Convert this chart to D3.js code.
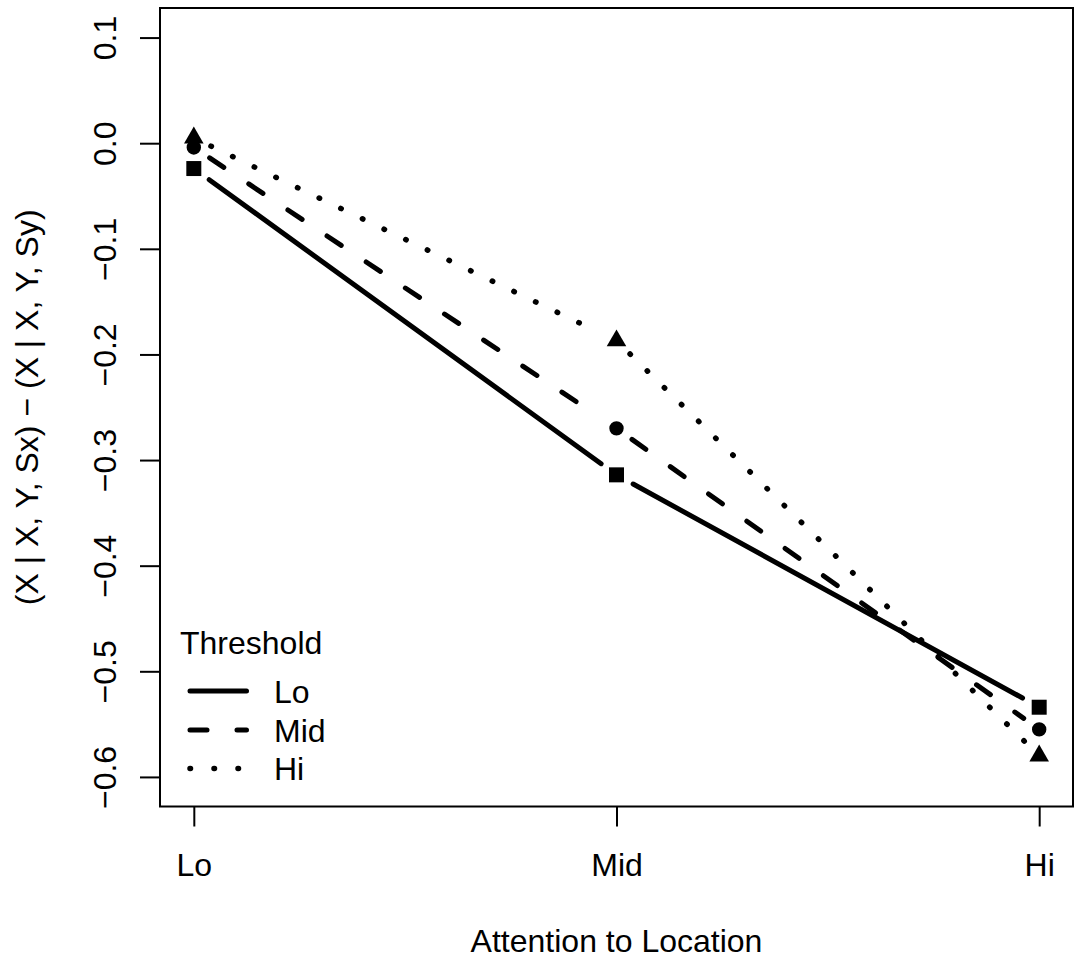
<!DOCTYPE html>
<html><head><meta charset="utf-8">
<script src="https://cdn.jsdelivr.net/npm/d3@7"></script>
<style>body{margin:0;background:#fff}svg text{font-family:"Liberation Sans",Arial,Helvetica,sans-serif;fill:#000}</style>
</head><body>
<svg id="chart" width="1078" height="962"></svg>
<script>
// ---- data ----
const attention = ["Lo", "Mid", "Hi"];           // x categories
const thresholds = ["Lo", "Mid", "Hi"];          // series names
const valuesLo  = [-0.024, -0.314, -0.534];
const valuesMid = [-0.004, -0.270, -0.555];
const valuesHi  = [ 0.005, -0.187, -0.580];
const yTicks = [-0.6, -0.5, -0.4, -0.3, -0.2, -0.1, 0.0, 0.1];
const xTitle = "Attention to Location";
const yTitle = "(X | X, Y, Sx) \u2212 (X | X, Y, Sy)";
const legendTitle = "Threshold";

const seriesValues = [valuesLo, valuesMid, valuesHi];
const styles = [
  {dash: null, symbol: d3.symbolSquare, size: 225, width: 5},
  {dash: "17,30", symbol: d3.symbolCircle, size: 163, width: 5},
  {dash: "0.5,23.5", symbol: d3.symbolTriangle, size: 166, width: 5.5}
];

const svg = d3.select("#chart");
const box = {left: 160, right: 1073, top: 8, bottom: 806.5};
const FS = 32;

const x = d3.scaleLinear().domain([0.92, 3.08]).range([box.left, box.right]);
const y = d3.scaleLinear().domain([-0.628, 0.128]).range([box.bottom, box.top]);

// plot box
svg.append("rect").attr("x", box.left).attr("y", box.top)
  .attr("width", box.right - box.left).attr("height", box.bottom - box.top)
  .attr("fill", "none").attr("stroke", "#000").attr("stroke-width", 2);

const fmt = v => (v < 0 ? "\u2212" : "") + Math.abs(v).toFixed(1);

// y axis
const yAxis = svg.append("g").attr("transform", `translate(${box.left},0)`)
  .call(d3.axisLeft(y).tickValues(yTicks).tickSize(20).tickFormat(fmt));
yAxis.select(".domain").remove();
yAxis.selectAll(".tick line").attr("stroke", "#000").attr("stroke-width", 2);
yAxis.selectAll(".tick text")
  .attr("x", null).attr("dy", null)
  .attr("transform", "translate(-44.5,0) rotate(-90)")
  .attr("text-anchor", "middle")
  .style("font-size", FS + "px");

// x axis
const xAxis = svg.append("g").attr("transform", `translate(0,${box.bottom})`)
  .call(d3.axisBottom(x).tickValues([1, 2, 3]).tickSize(20).tickFormat(d => attention[d - 1]));
xAxis.select(".domain").remove();
xAxis.selectAll(".tick line").attr("stroke", "#000").attr("stroke-width", 2);
xAxis.selectAll(".tick text").attr("y", 876 - box.bottom).attr("dy", null)
  .attr("text-anchor", "middle").style("font-size", FS + "px");

// titles
svg.append("text").attr("x", (box.left + box.right) / 2).attr("y", 952)
  .attr("text-anchor", "middle").style("font-size", FS + "px").text(xTitle);
svg.append("text")
  .attr("transform", `translate(38,${(box.top + box.bottom) / 2}) rotate(-90)`)
  .attr("text-anchor", "middle").style("font-size", FS + "px").text(yTitle);

// series: segments with gaps around points (type = "b")
const GAP = 19;
const lineGen = d3.line();
seriesValues.forEach((vals, s) => {
  const st = styles[s];
  const pts = vals.map((v, i) => [x(i + 1), y(v)]);
  for (let i = 0; i < pts.length - 1; i++) {
    const [x0, y0] = pts[i], [x1, y1] = pts[i + 1];
    const L = Math.hypot(x1 - x0, y1 - y0);
    const ux = (x1 - x0) / L, uy = (y1 - y0) / L;
    const seg = [[x0 + ux * GAP, y0 + uy * GAP], [x1 - ux * GAP, y1 - uy * GAP]];
    svg.append("path").attr("d", lineGen(seg))
      .attr("fill", "none").attr("stroke", "#000").attr("stroke-width", st.width)
      .attr("stroke-linecap", "round")
      .attr("stroke-dasharray", st.dash);
  }
  svg.append("g").selectAll("path").data(pts).join("path")
    .attr("transform", d => `translate(${d[0]},${d[1]})`)
    .attr("d", d3.symbol(st.symbol, st.size)())
    .attr("fill", "#000");
});

// legend
const lg = svg.append("g");
lg.append("text").attr("x", 180).attr("y", 654).style("font-size", FS + "px").text(legendTitle);
const legY = [691, 730, 768.5];
thresholds.forEach((t, i) => {
  lg.append("path").attr("d", lineGen([[190, legY[i]], [246.5, legY[i]]]))
    .attr("fill", "none").attr("stroke", "#000").attr("stroke-width", styles[i].width)
    .attr("stroke-linecap", "round").attr("stroke-dasharray", styles[i].dash);
  lg.append("text").attr("x", 274).attr("y", legY[i] + 11.5).style("font-size", FS + "px").text(t);
});
</script>
</body></html>
